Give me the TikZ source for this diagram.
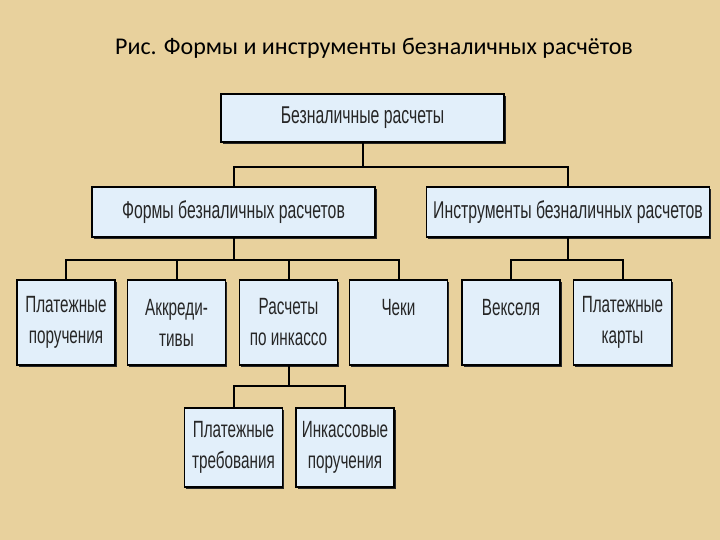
\documentclass[tikz,border=0pt]{standalone}
\usepackage{fontspec}
\setmainfont{Carlito}
\newfontfamily\narrowfont[FakeStretch=0.65]{Liberation Sans}
\usetikzlibrary{shadows}
\definecolor{parchment}{RGB}{232,209,157}
\definecolor{boxblue}{RGB}{226,239,250}

\begin{document}
\begin{tikzpicture}[x=1pt,y=-1pt,
  box/.style={draw=black,line width=1.2pt,fill=boxblue,inner sep=0pt,align=center,text=black!85,
    drop shadow={shadow xshift=1.6pt,shadow yshift=-1.6pt,opacity=1,fill=black!85}},
  wide/.style={box,minimum width=283pt,minimum height=48pt,font=\narrowfont\fontsize{24.3}{28}\selectfont},
  small/.style={box,minimum width=98pt,minimum height=85pt,font=\narrowfont\fontsize{23.5}{31}\selectfont},
  link/.style={line width=2pt,black}]
\fill[parchment] (0,0) rectangle (720,540);
\useasboundingbox (0,0) rectangle (720,540);

\node[font=\fontsize{24}{28}\selectfont,anchor=base] (title) at (374,55) {Рис. Формы и инструменты безналичных расчётов};

\node[wide] (root) at (362.5,118) {Безналичные расчеты};
\node[wide,minimum height=50pt] (forms) at (233.5,212) {Формы безналичных расчетов};
\node[wide,minimum height=50pt] (tools) at (568,212) {Инструменты безналичных расчетов};

\node[small] (plat) at (66,322.5) {Платежные\\поручения};
\node[small] (akkr) at (176.5,322.5) {Аккреди-\\тивы};
\node[small] (inkasso) at (288.5,322.5) {Расчеты\\по инкассо};
\node[small] (cheki) at (398.5,322.5) {Чеки\\~};
\node[small] (veks) at (511,322.5) {Векселя\\~};
\node[small] (karty) at (622.5,322.5) {Платежные\\карты};

\node[small,minimum height=79pt] (treb) at (233.5,447.5) {Платежные\\требования};
\node[small,minimum height=79pt] (poruch) at (345,447.5) {Инкассовые\\поручения};

\draw[link] (root.south) -- ++(0,24) -| (forms.north);
\draw[link] (root.south) -- ++(0,24) -| (tools.north);
\foreach \n in {plat,akkr,inkasso,cheki}
  \draw[link] (forms.south) -- ++(0,22) -| (\n.north);
\foreach \n in {veks,karty}
  \draw[link] (tools.south) -- ++(0,22) -| (\n.north);
\foreach \n in {treb,poruch}
  \draw[link] (inkasso.south) -- ++(0,20) -| (\n.north);
\end{tikzpicture}
\end{document}
